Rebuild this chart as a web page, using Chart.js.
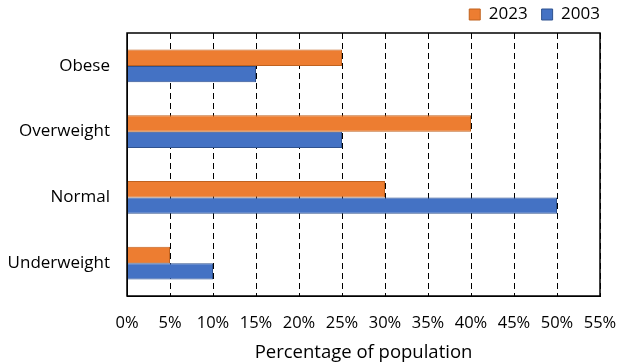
<!DOCTYPE html>
<html>
<head>
<meta charset="utf-8">
<script src="https://cdn.jsdelivr.net/npm/chart.js@4"></script>
<style>
  body { margin: 0; background: #fff; }
  #wrap { width: 619px; height: 364px; }
</style>
</head>
<body>
<div id="wrap"><canvas id="myChart" width="619" height="364"></canvas></div>
<script>
// data
const categories = ["Obese", "Overweight", "Normal", "Underweight"];
const values2023 = [25, 40, 30, 5];
const values2003 = [15, 25, 50, 10];
const xTicks = [0, 5, 10, 15, 20, 25, 30, 35, 40, 45, 50, 55];

const font = "'Open Sans', 'Noto Sans', sans-serif";
const legendGap = 14;

// full box around the plot, legend pushed to the right edge
const frame = {
  id: "frame",
  afterLayout(chart) {
    chart.legend.left += legendGap;
    chart.legend.right += legendGap;
  },
  afterDraw(chart) {
    const a = chart.chartArea;
    const c = chart.ctx;
    c.save();
    c.strokeStyle = "#000";
    c.lineWidth = 1.5;
    c.strokeRect(a.left, a.top, a.right - a.left, a.bottom - a.top);
    c.restore();
  },
};

const ctx = document.getElementById("myChart");

new Chart(ctx, {
  type: "bar",
  data: {
    labels: categories,
    datasets: [
      {
        label: "2023",
        data: values2023,
        backgroundColor: "#ED7D31",
        borderColor: "#C0621F",
        borderWidth: 1,
      },
      {
        label: "2003",
        data: values2003,
        backgroundColor: "#4472C4",
        borderColor: "#2F528F",
        borderWidth: 1,
      },
    ],
  },
  options: {
    indexAxis: "y",
    responsive: false,
    animation: false,
    layout: { padding: { left: 0, right: 19, top: -8, bottom: 0 } },
    datasets: {
      bar: { categoryPercentage: 0.5, barPercentage: 1.0 },
    },
    plugins: {
      legend: {
        position: "top",
        align: "end",
        labels: {
          color: "#000",
          font: { family: font, size: 17 },
          boxWidth: 11,
          boxHeight: 11,
          padding: legendGap,
        },
      },
      tooltip: { enabled: false },
    },
    scales: {
      x: {
        min: 0,
        max: 55,
        afterBuildTicks: (scale) => {
          scale.ticks = xTicks.map((v) => ({ value: v }));
        },
        ticks: {
          color: "#000",
          font: { family: font, size: 16.5 },
          padding: 17,
          maxRotation: 0,
          callback: (v) => v + "%",
        },
        grid: {
          color: "#000",
          lineWidth: 1,
          drawTicks: false,
        },
        border: { display: true, color: "#000", dash: [6, 4] },
        title: {
          display: true,
          text: "Percentage of population",
          color: "#000",
          font: { family: font, size: 18.5 },
          padding: { top: 2, bottom: 0 },
        },
        afterFit: (scale) => {
          scale.height = 68;
          scale.paddingLeft = 0;
          scale.paddingRight = 0;
        },
      },
      y: {
        ticks: {
          color: "#000",
          font: { family: font, size: 17 },
          padding: 9,
        },
        grid: { display: false },
        border: { display: true, color: "#000" },
        afterFit: (scale) => {
          scale.width = 127;
        },
      },
    },
  },
  plugins: [frame],
});
</script>
</body>
</html>
